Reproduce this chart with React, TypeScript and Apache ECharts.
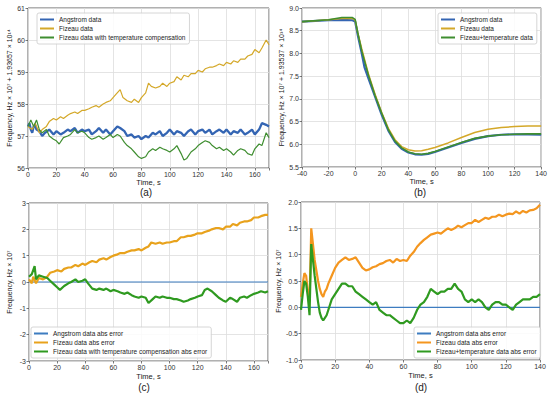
import React, { useEffect, useRef } from 'react';
import * as echarts from 'echarts';

// ---------- Panel (a) ----------
const angstromA: [number, number][] = [
  [0, 57.3], [1, 57.4], [2, 57.2], [3, 57.1], [4, 57.3], [5, 57.35], [6, 57.2], [8, 57.15], [10, 57.0], [12, 57.1],
  [15, 57.2], [18, 57.05], [20, 57.15], [23, 57.05], [25, 57.1], [28, 57.2], [30, 57.15], [33, 57.25], [35, 57.1],
  [38, 57.2], [40, 57.15], [43, 57.2], [45, 57.05], [48, 57.15], [50, 57.25], [53, 57.1], [55, 57.2], [58, 57.05],
  [60, 57.15], [63, 57.3], [65, 57.25], [68, 57.15], [70, 57.0], [73, 57.05], [75, 56.95], [78, 57.0], [80, 56.9],
  [83, 57.0], [85, 56.95], [88, 57.1], [90, 57.05], [93, 57.15], [95, 57.0], [98, 57.1], [100, 57.2], [103, 57.05],
  [105, 57.15], [108, 57.1], [110, 57.0], [113, 57.15], [115, 57.2], [118, 57.05], [120, 57.15], [123, 57.2],
  [125, 57.1], [128, 57.2], [130, 57.05], [133, 57.15], [135, 57.2], [138, 57.1], [140, 57.2], [143, 57.05],
  [145, 57.15], [148, 57.1], [150, 57.2], [153, 57.05], [155, 57.1], [158, 57.2], [160, 57.05], [163, 57.2],
  [165, 57.4], [168, 57.35], [170, 57.3],
];
const fizeauA: [number, number][] = [
  [0, 57.3], [3, 57.2], [5, 57.4], [8, 57.1], [10, 57.2], [13, 57.3], [15, 57.45], [18, 57.55], [20, 57.5],
  [23, 57.6], [25, 57.55], [28, 57.65], [30, 57.7], [33, 57.75], [35, 57.7], [38, 57.8], [40, 57.8], [43, 57.85],
  [45, 57.9], [48, 57.95], [50, 57.9], [53, 58.0], [55, 58.05], [58, 58.1], [60, 58.2], [62, 58.3], [65, 58.45],
  [67, 58.2], [70, 58.1], [73, 58.05], [75, 58.15], [78, 58.05], [80, 58.2], [83, 58.35], [85, 58.65], [87, 58.55],
  [90, 58.5], [93, 58.55], [95, 58.65], [98, 58.55], [100, 58.65], [103, 58.7], [105, 58.85], [108, 58.75],
  [110, 58.9], [113, 58.85], [115, 58.95], [118, 58.95], [120, 59.05], [123, 59.0], [125, 59.1], [128, 59.15],
  [130, 59.15], [133, 59.2], [135, 59.25], [138, 59.2], [140, 59.3], [143, 59.25], [145, 59.35], [148, 59.3],
  [150, 59.4], [153, 59.4], [155, 59.5], [158, 59.55], [160, 59.7], [163, 59.6], [165, 59.75], [168, 60.0], [170, 59.85],
];
const fizeauTempA: [number, number][] = [
  [0, 57.3], [2, 57.5], [4, 57.3], [6, 57.5], [8, 57.2], [10, 57.1], [13, 57.2], [15, 57.0], [18, 56.9], [20, 56.85],
  [22, 56.75], [25, 56.95], [28, 57.0], [30, 57.05], [33, 57.2], [35, 57.1], [38, 57.15], [40, 57.1], [43, 56.95],
  [45, 56.9], [48, 56.95], [50, 57.0], [53, 56.9], [55, 56.95], [58, 57.05], [60, 56.95], [63, 57.05], [65, 57.0],
  [68, 56.8], [70, 56.7], [73, 56.6], [75, 56.5], [78, 56.35], [80, 56.3], [83, 56.35], [85, 56.5], [88, 56.6],
  [90, 56.55], [93, 56.65], [95, 56.6], [98, 56.55], [100, 56.5], [103, 56.6], [105, 56.7], [108, 56.45], [110, 56.25],
  [112, 56.3], [115, 56.5], [118, 56.6], [120, 56.7], [123, 56.8], [125, 56.85], [128, 56.8], [130, 56.7], [133, 56.6],
  [135, 56.65], [138, 56.55], [140, 56.6], [143, 56.5], [145, 56.4], [148, 56.55], [150, 56.6], [153, 56.55],
  [155, 56.45], [158, 56.4], [160, 56.6], [163, 56.75], [165, 56.7], [168, 57.1], [170, 56.95],
];

// ---------- Panel (b) ----------
const angstromB: [number, number][] = [
  [-40, 8.70], [-20, 8.73], [-10, 8.74], [-2, 8.73], [0, 8.70], [2, 8.4], [5, 8.0], [7, 7.7], [10, 7.45], [15, 7.05],
  [20, 6.65], [25, 6.3], [30, 6.05], [35, 5.9], [40, 5.82], [45, 5.78], [50, 5.77], [55, 5.79], [60, 5.83], [65, 5.88],
  [70, 5.93], [80, 6.03], [90, 6.12], [100, 6.18], [110, 6.21], [120, 6.22], [130, 6.22], [140, 6.21],
];
const fizeauB: [number, number][] = [
  [-40, 8.70], [-20, 8.74], [-10, 8.77], [-2, 8.77], [0, 8.73], [2, 8.45], [5, 8.1], [10, 7.55], [15, 7.1], [20, 6.7],
  [25, 6.35], [30, 6.1], [35, 5.95], [40, 5.88], [45, 5.85], [50, 5.86], [55, 5.89], [60, 5.93], [70, 6.03], [80, 6.15],
  [90, 6.26], [100, 6.33], [110, 6.37], [120, 6.39], [130, 6.40], [140, 6.40],
];
const fizeauTempB: [number, number][] = [
  [-40, 8.70], [-20, 8.74], [-10, 8.79], [-2, 8.79], [0, 8.75], [2, 8.45], [5, 8.05], [10, 7.52], [15, 7.07], [20, 6.68],
  [25, 6.32], [30, 6.07], [35, 5.92], [40, 5.83], [45, 5.79], [50, 5.78], [55, 5.80], [60, 5.84], [70, 5.94], [80, 6.04],
  [90, 6.13], [100, 6.18], [110, 6.21], [120, 6.22], [130, 6.23], [140, 6.23],
];

// ---------- Panel (c) ----------
const angstromErrC: [number, number][] = [[0, 0], [170, 0]];
const fizeauErrC: [number, number][] = [
  [0, 0.1], [2, -0.05], [3, 0.2], [5, -0.05], [7, 0.15], [10, 0.1], [13, 0.2], [15, 0.35], [18, 0.4], [20, 0.45],
  [23, 0.4], [25, 0.5], [28, 0.55], [30, 0.55], [33, 0.65], [35, 0.6], [38, 0.7], [40, 0.65], [43, 0.75], [45, 0.8],
  [48, 0.75], [50, 0.85], [53, 0.9], [55, 0.85], [58, 0.95], [60, 1.0], [63, 1.05], [65, 1.1], [68, 1.1], [70, 1.15],
  [73, 1.2], [75, 1.2], [78, 1.25], [80, 1.2], [83, 1.3], [85, 1.35], [87, 1.5], [90, 1.45], [93, 1.5], [95, 1.45],
  [98, 1.5], [100, 1.5], [103, 1.55], [105, 1.55], [108, 1.7], [110, 1.7], [113, 1.75], [115, 1.75], [118, 1.8],
  [120, 1.85], [123, 1.85], [125, 1.9], [128, 1.95], [130, 2.0], [133, 2.05], [135, 2.05], [138, 2.0], [140, 2.1],
  [143, 2.1], [145, 2.2], [148, 2.15], [150, 2.25], [153, 2.3], [155, 2.3], [158, 2.35], [160, 2.45], [163, 2.45],
  [165, 2.5], [168, 2.55], [170, 2.55],
];
const fizeauTempErrC: [number, number][] = [
  [0, 0.2], [2, 0.3], [4, 0.6], [5, 0.1], [7, 0.25], [10, 0.2], [13, 0.15], [15, 0.05], [18, -0.1], [20, -0.2],
  [22, -0.3], [25, -0.15], [28, -0.05], [30, 0.0], [33, 0.1], [35, 0.0], [38, 0.05], [40, 0.1], [42, -0.05], [45, -0.25],
  [48, -0.3], [50, -0.25], [53, -0.3], [55, -0.25], [58, -0.35], [60, -0.3], [63, -0.35], [65, -0.4], [68, -0.45],
  [70, -0.4], [73, -0.5], [75, -0.55], [78, -0.6], [80, -0.55], [83, -0.6], [85, -0.8], [88, -0.65], [90, -0.55],
  [93, -0.6], [95, -0.55], [98, -0.6], [100, -0.6], [103, -0.65], [105, -0.65], [108, -0.7], [110, -0.75], [113, -0.7],
  [115, -0.65], [118, -0.6], [120, -0.55], [123, -0.5], [125, -0.3], [127, -0.25], [130, -0.35], [133, -0.5],
  [135, -0.6], [138, -0.7], [140, -0.75], [143, -0.6], [145, -0.65], [148, -0.75], [150, -0.6], [153, -0.55],
  [155, -0.6], [158, -0.5], [160, -0.45], [163, -0.4], [165, -0.35], [168, -0.4], [170, -0.35],
];

// ---------- Panel (d) ----------
const angstromErrD: [number, number][] = [[0, 0], [140, 0]];
const fizeauErrD: [number, number][] = [
  [0, 0.2], [1, 0.45], [2, 0.65], [3, 0.6], [4, 0.3], [5, 0.1], [6, 1.5], [7, 1.2], [8, 0.9], [9, 0.7], [10, 0.5],
  [11, 0.35], [12, 0.25], [13, 0.2], [14, 0.3], [15, 0.35], [16, 0.45], [18, 0.6], [20, 0.75], [22, 0.85], [24, 0.9],
  [26, 0.95], [28, 0.9], [30, 0.92], [32, 0.95], [34, 0.85], [36, 0.75], [38, 0.7], [40, 0.72], [42, 0.76], [44, 0.78],
  [46, 0.82], [48, 0.84], [50, 0.88], [52, 0.9], [54, 0.85], [56, 0.92], [58, 0.88], [60, 0.9], [62, 0.88], [64, 0.98],
  [66, 1.05], [68, 1.15], [70, 1.22], [72, 1.28], [74, 1.33], [76, 1.38], [78, 1.4], [80, 1.42], [82, 1.4], [84, 1.45],
  [86, 1.5], [88, 1.47], [90, 1.5], [92, 1.55], [94, 1.52], [96, 1.56], [98, 1.6], [100, 1.6], [102, 1.66], [104, 1.62],
  [106, 1.66], [108, 1.7], [110, 1.68], [112, 1.72], [114, 1.72], [116, 1.76], [118, 1.73], [120, 1.76], [122, 1.78],
  [124, 1.77], [126, 1.82], [128, 1.78], [130, 1.83], [132, 1.8], [134, 1.84], [136, 1.85], [138, 1.88], [140, 1.95],
];
const fizeauTempErrD: [number, number][] = [
  [0, -0.05], [1, 0.25], [2, 0.5], [3, 0.45], [4, 0.2], [5, -0.15], [6, 1.2], [7, 0.9], [8, 0.6], [9, 0.35], [10, 0.1],
  [11, -0.1], [12, -0.2], [13, -0.25], [14, -0.2], [15, -0.15], [16, -0.05], [18, 0.15], [20, 0.25], [22, 0.35],
  [24, 0.45], [26, 0.45], [28, 0.4], [30, 0.4], [32, 0.3], [34, 0.25], [36, 0.2], [38, 0.15], [40, 0.1], [42, 0.05],
  [44, 0.1], [46, -0.05], [48, -0.1], [50, -0.15], [52, -0.15], [54, -0.2], [56, -0.25], [58, -0.3], [60, -0.3],
  [62, -0.25], [64, -0.3], [66, -0.2], [68, -0.05], [70, 0.05], [72, 0.1], [74, 0.2], [76, 0.35], [78, 0.3], [80, 0.25],
  [82, 0.3], [84, 0.3], [86, 0.35], [88, 0.35], [90, 0.45], [92, 0.35], [94, 0.3], [96, 0.15], [98, 0.1], [100, 0.15],
  [102, 0.1], [104, 0.15], [106, 0.1], [108, 0.0], [110, -0.05], [112, 0.05], [114, 0.1], [116, 0.1], [118, 0.05],
  [120, 0.05], [122, 0.0], [124, -0.05], [126, 0.05], [128, 0.1], [130, 0.15], [132, 0.15], [134, 0.15], [136, 0.2],
  [138, 0.2], [140, 0.25],
];

const yNameA = 'Frequency, Hz × 10⁷ + 1.93657 × 10¹⁴';
const yNameB = 'Frequency, Hz × 10⁷ + 1.93537 × 10¹⁴';
const yNameCD = 'Frequency, Hz × 10⁷';
const xName = 'Time, s';
const panelLabels = ['(a)', '(b)', '(c)', '(d)'];

const FONT = 'Liberation Sans, Arial, sans-serif';
const BLUE = '#3465b3';
const GOLD = '#d4a829';
const GREEN = '#3f8e30';
const ORANGE_C = '#e8a21c';
const ORANGE_D = '#f4961f';
const GREEN_CD = '#2f9a20';
const BLUE_CD = '#3d7cc0';

export default function App() {
  const ref = useRef<HTMLDivElement>(null);
  useEffect(() => {
    const chart = echarts.init(ref.current!, null, { renderer: 'svg' });
    const grids = [
      { left: 28, top: 8, width: 241, height: 160 },
      { left: 302, top: 8, width: 240, height: 159 },
      { left: 29, top: 203, width: 239, height: 158 },
      { left: 301, top: 202, width: 239, height: 158 },
    ].map((g) => ({ ...g, show: true, borderColor: '#3a3a3a', borderWidth: 0.8, backgroundColor: 'transparent' }));

    const tickFmt = (step: number, dec: number) => (v: number) => {
      const r = Math.round(v / step);
      if (Math.abs(r * step - v) > 1e-6) return '';
      return v.toFixed(dec);
    };

    const xAxis = (gi: number, min: number, max: number, nameGap: number) => ({
      type: 'value', gridIndex: gi, min, max, interval: 20,
      name: xName, nameLocation: 'middle', nameGap,
      nameTextStyle: { fontSize: 7.5, color: '#222', fontFamily: FONT },
      axisLine: { show: false, onZero: false },
      axisTick: { show: true, length: 2.5, lineStyle: { color: '#444', width: 0.7 } },
      axisLabel: { fontSize: 7, color: '#333', margin: 3, fontFamily: FONT, formatter: tickFmt(20, 0) },
      splitLine: { show: true, lineStyle: { color: '#dddddd', width: 0.8 } },
    });
    const yAxis = (gi: number, min: number, max: number, interval: number, dec: number, name: string, nameGap: number) => ({
      type: 'value', gridIndex: gi, min, max, interval,
      name, nameLocation: 'middle', nameGap, nameRotate: 90,
      nameTextStyle: { fontSize: 7, color: '#222', fontFamily: FONT },
      axisLine: { show: false, onZero: false },
      axisTick: { show: true, length: 2.5, lineStyle: { color: '#444', width: 0.7 } },
      axisLabel: { fontSize: 7, color: '#333', margin: 3, fontFamily: FONT, showMinLabel: true, showMaxLabel: true, formatter: tickFmt(interval, dec) },
      splitLine: { show: true, lineStyle: { color: '#dddddd', width: 0.8 } },
    });

    const line = (name: string, data: [number, number][], gi: number, color: string, width: number) => ({
      type: 'line', name, data, xAxisIndex: gi, yAxisIndex: gi,
      symbol: 'none', showSymbol: false, smooth: false,
      lineStyle: { color, width }, itemStyle: { color },
    });

    const legendBase = {
      orient: 'vertical', icon: 'rect', itemWidth: 14, itemHeight: 2, itemGap: 2,
      padding: [3, 4, 3, 3], backgroundColor: 'rgba(255,255,255,0.85)', borderColor: '#cccccc', borderWidth: 0.8,
      borderRadius: 2,
      textStyle: { fontSize: 6.5, color: '#222', fontFamily: FONT, lineHeight: 7 },
    };
    const li = (name: string, color: string) => ({ name, icon: 'rect', itemStyle: { color } });

    chart.setOption({
      animation: false,
      backgroundColor: '#ffffff',
      textStyle: { fontFamily: FONT },
      grid: grids,
      xAxis: [xAxis(0, 0, 170, 9), xAxis(1, -40, 140, 10), xAxis(2, 0, 170, 11), xAxis(3, 0, 140, 11)],
      yAxis: [
        yAxis(0, 56, 61, 1, 0, yNameA, 13),
        yAxis(1, 5.5, 9.0, 0.5, 1, yNameB, 16),
        yAxis(2, -3, 3, 1, 0, yNameCD, 16),
        yAxis(3, -1, 2, 0.5, 1, yNameCD, 18),
      ],
      legend: [
        { ...legendBase, left: 37, top: 13,
          data: [li('Angstrom data', BLUE), li('Fizeau data', GOLD), li('Fizeau data with temperature compensation', GREEN)] },
        { ...legendBase, left: 438, top: 13,
          data: [li('Angstrom data', BLUE), li('Fizeau data', GOLD), li('Fizeau+temperature data', GREEN)] },
        { ...legendBase, left: 31, top: 327,
          data: [li('Angstrom data abs error', BLUE_CD), li('Fizeau data abs error', ORANGE_C),
            li('Fizeau data with temperature compensation abs error', GREEN_CD)] },
        { ...legendBase, left: 414, top: 327,
          data: [li('Angstrom data abs error', BLUE_CD), li('Fizeau data abs error', ORANGE_D),
            li('Fizeau+temperature data abs error', GREEN_CD)] },
      ],
      series: [
        line('Angstrom data', angstromA, 0, BLUE, 2.3),
        line('Fizeau data', fizeauA, 0, GOLD, 1.2),
        line('Fizeau data with temperature compensation', fizeauTempA, 0, GREEN, 1.2),
        line('Angstrom data', angstromB, 1, BLUE, 2.2),
        line('Fizeau data', fizeauB, 1, GOLD, 1.5),
        line('Fizeau+temperature data', fizeauTempB, 1, GREEN, 1.6),
        line('Angstrom data abs error', angstromErrC, 2, BLUE_CD, 1.2),
        line('Fizeau data abs error', fizeauErrC, 2, ORANGE_C, 2.2),
        line('Fizeau data with temperature compensation abs error', fizeauTempErrC, 2, GREEN_CD, 2.2),
        line('Angstrom data abs error', angstromErrD, 3, BLUE_CD, 1.2),
        line('Fizeau data abs error', fizeauErrD, 3, ORANGE_D, 2.2),
        line('Fizeau+temperature data abs error', fizeauTempErrD, 3, GREEN_CD, 2.2),
      ],
      graphic: [
        { type: 'text', x: 146, y: 192, style: { text: panelLabels[0], fontSize: 10, fill: '#222', fontFamily: FONT, align: 'center', verticalAlign: 'middle' } },
        { type: 'text', x: 420, y: 192, style: { text: panelLabels[1], fontSize: 10, fill: '#222', fontFamily: FONT, align: 'center', verticalAlign: 'middle' } },
        { type: 'text', x: 144, y: 387, style: { text: panelLabels[2], fontSize: 10, fill: '#222', fontFamily: FONT, align: 'center', verticalAlign: 'middle' } },
        { type: 'text', x: 421, y: 387, style: { text: panelLabels[3], fontSize: 10, fill: '#222', fontFamily: FONT, align: 'center', verticalAlign: 'middle' } },
      ],
    });
    return () => chart.dispose();
  }, []);
  return <div ref={ref} style={{ position: 'absolute', left: 0, top: 0, width: 550, height: 395 }} />;
}
